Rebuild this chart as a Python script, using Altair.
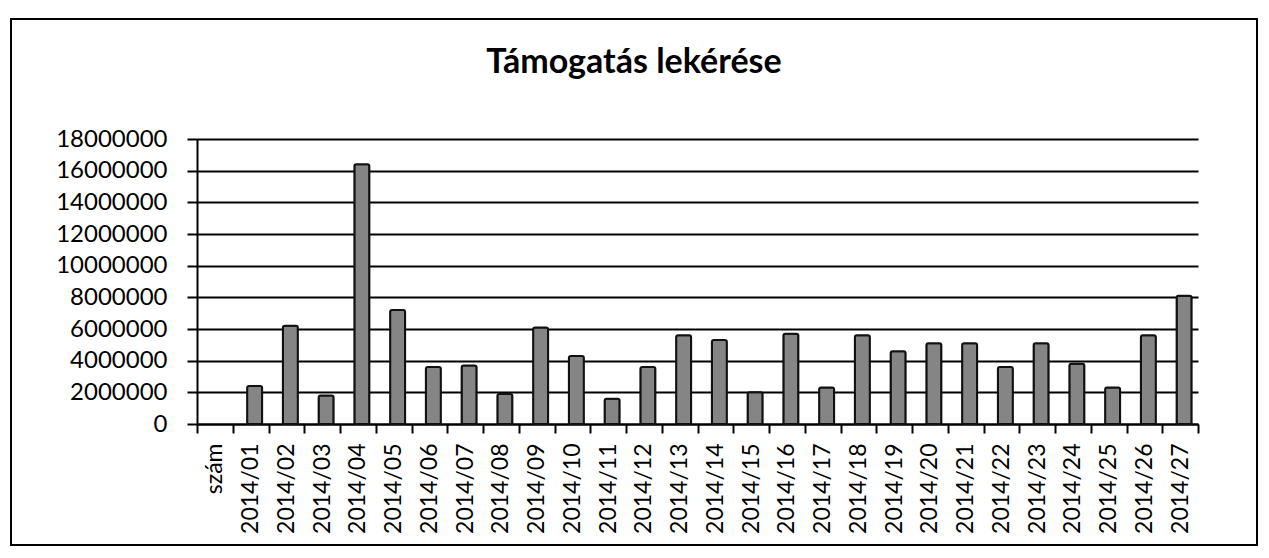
import altair as alt
import pandas as pd

title_text = "Támogatás lekérése"

categories = [
    "szám", "2014/01", "2014/02", "2014/03", "2014/04", "2014/05", "2014/06",
    "2014/07", "2014/08", "2014/09", "2014/10", "2014/11", "2014/12",
    "2014/13", "2014/14", "2014/15", "2014/16", "2014/17", "2014/18",
    "2014/19", "2014/20", "2014/21", "2014/22", "2014/23", "2014/24",
    "2014/25", "2014/26", "2014/27",
]

amounts = [
    None, 2400000, 6200000, 1800000, 16400000, 7200000, 3600000,
    3700000, 1900000, 6100000, 4300000, 1600000, 3600000,
    5600000, 5300000, 2000000, 5700000, 2300000, 5600000,
    4600000, 5100000, 5100000, 3600000, 5100000, 3800000,
    2300000, 5600000, 8100000,
]

y_ticks = [0, 2000000, 4000000, 6000000, 8000000, 10000000,
           12000000, 14000000, 16000000, 18000000]

df = pd.DataFrame({"period": categories, "amount": amounts})

W, H = 1001, 285
FONT = "Lato"

bars = alt.Chart(df).mark_bar(
    size=15, fill="#858585", stroke="#111111", strokeWidth=2,
    cornerRadiusTopLeft=2, cornerRadiusTopRight=2, xOffset=4,
).encode(
    x=alt.X(
        "period:N", sort=categories,
        scale=alt.Scale(domain=categories, paddingInner=0, paddingOuter=0),
        axis=alt.Axis(
            title=None, labelAngle=-90, labelAlign="right", labelBaseline="middle",
            labelFont=FONT, labelFontSize=23, labelColor="black", labelPadding=10,
            tickColor="black", tickSize=9, tickWidth=2, tickBand="extent",
            domainColor="black", domainWidth=2, grid=False, labelOverlap=False,
        ),
    ),
    y=alt.Y(
        "amount:Q",
        scale=alt.Scale(domain=[0, 18000000], nice=False),
        axis=alt.Axis(
            title=None, values=y_ticks, format="d",
            labelFont=FONT, labelFontSize=24, labelColor="black", labelPadding=20,
            tickColor="black", tickSize=10, tickWidth=2,
            domainColor="black", domainWidth=2,
            grid=True, gridColor="black", gridWidth=2,
        ),
    ),
)

title = alt.Chart(pd.DataFrame({"t": [title_text]})).mark_text(
    font=FONT, fontSize=34, fontWeight="bold", align="center",
    baseline="alphabetic", color="black",
).encode(x=alt.value(437), y=alt.value(-66), text="t:N")

frame = alt.Chart(pd.DataFrame({"k": [0]})).mark_rect(
    fill="transparent", stroke="black", strokeWidth=2,
).encode(x=alt.value(-186), x2=alt.value(1060), y=alt.value(-120), y2=alt.value(406))

chart = alt.layer(frame, bars, title).properties(
    width=W, height=H,
    autosize=alt.AutoSizeParams(type="none"),
    padding={"left": 189, "top": 131, "right": 62, "bottom": 124},
    background="white",
).configure_view(strokeWidth=0)

chart.save("out.html", embed_options={"renderer": "svg", "actions": False})
